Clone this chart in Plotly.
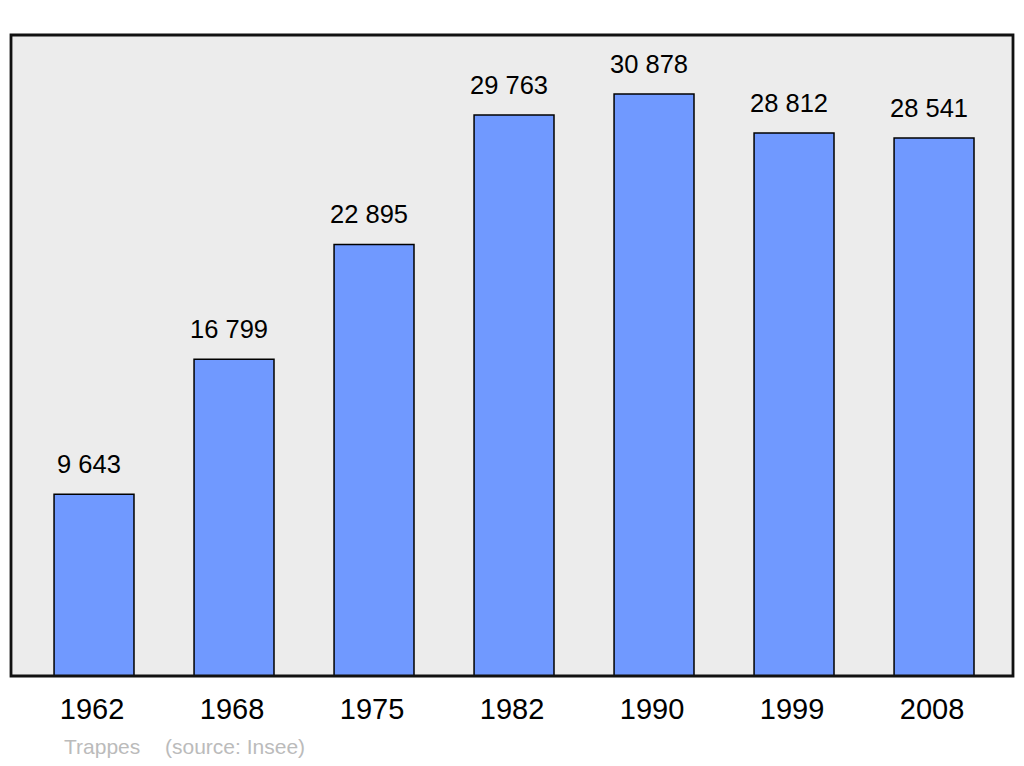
import plotly.graph_objects as go

years = ["1962", "1968", "1975", "1982", "1990", "1999", "2008"]
population = [9643, 16799, 22895, 29763, 30878, 28812, 28541]
labels = ["9 643", "16 799", "22 895", "29 763", "30 878", "28 812", "28 541"]

xs = list(range(len(years)))

fig = go.Figure()
fig.add_trace(go.Bar(
    x=xs, y=population, width=0.571,
    marker=dict(color="#7099FF", line=dict(color="#000000", width=1.5)),
    hoverinfo="skip",
))

for x, v, t in zip(xs, population, labels):
    fig.add_annotation(x=x, y=v, text=t, showarrow=False, yanchor="bottom",
                       yshift=14, xshift=-5,
                       font=dict(family="Liberation Sans", size=25.5, color="#000"))

cap_y = (676 - 746) / 641
fig.add_annotation(xref="paper", yref="paper", x=(62 - 11) / 1002, y=cap_y,
                   text="Trappes", showarrow=False, xanchor="left", yanchor="middle",
                   font=dict(family="Liberation Sans", size=21, color="#BBBBBB"))
fig.add_annotation(xref="paper", yref="paper", x=(163 - 11) / 1002, y=cap_y,
                   text="(source: Insee)", showarrow=False, xanchor="left", yanchor="middle",
                   font=dict(family="Liberation Sans", size=21, color="#BBBBBB"))

fig.add_shape(type="rect", xref="paper", yref="paper", x0=0, x1=1, y0=0, y1=1,
              line=dict(color="#111111", width=2.8), layer="above")

fig.update_layout(
    width=1016, height=758,
    margin=dict(l=3, r=11, t=27, b=90),
    plot_bgcolor="#ECECEC", paper_bgcolor="#FFFFFF",
    showlegend=False,
    xaxis=dict(range=[-0.593, 6.564], tickvals=xs, ticktext=years, showgrid=False,
               zeroline=False, ticks="", ticklabelstandoff=13, ticklabelshift=-2,
               tickfont=dict(family="Liberation Sans", size=29, color="#000")),
    yaxis=dict(range=[0, 34009], showticklabels=False, showgrid=False, zeroline=False),
)

fig.write_html("out.html")
